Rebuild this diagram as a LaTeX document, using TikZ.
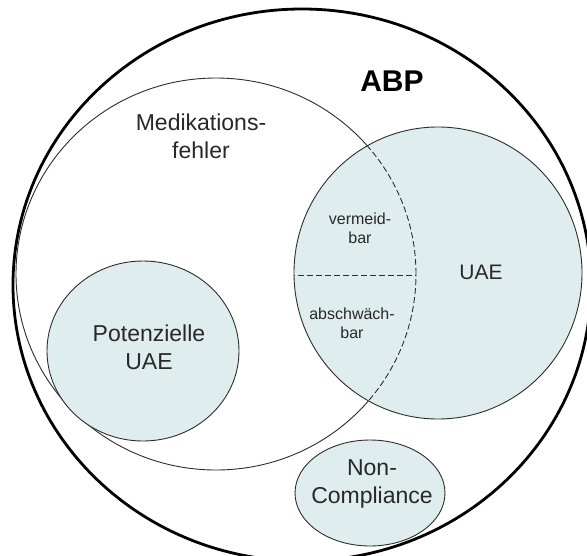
\documentclass[tikz,border=0pt]{standalone}
\usepackage{fontspec}
\setmainfont{Liberation Sans}
\definecolor{uaefill}{RGB}{224,237,238}
\definecolor{linegray}{RGB}{45,45,45}
\definecolor{textgray}{RGB}{40,40,40}
\begin{document}
\begin{tikzpicture}[x=1pt,y=-1pt,
  thinline/.style={draw=linegray, line width=0.9pt},
  setfill/.style={thinline, fill=uaefill},
  dashline/.style={draw=linegray, line width=0.9pt, dash pattern=on 6pt off 3pt},
  outerline/.style={draw=black, line width=2.8pt},
  bigtext/.style={text=textgray, align=center, inner sep=0pt, font=\fontsize{23}{28}\selectfont},
  smalltext/.style={text=textgray, align=center, inner sep=0pt, font=\fontsize{16}{19}\selectfont}]
\fill[white] (0,0) rectangle (587,555);
\useasboundingbox (0,0) rectangle (587,555);
\clip (0,0) rectangle (587,555);
% Medikationsfehler
\draw[thinline] (216,274) ellipse [x radius=200pt, y radius=196pt];
% Potenzielle UAE
\draw[setfill] (143,351) ellipse [x radius=96pt, y radius=90pt];
% UAE
\draw[setfill] (438,273) ellipse [x radius=144pt, y radius=146pt];
\begin{scope}
  \clip (438,273) ellipse [x radius=144pt, y radius=146pt];
  \draw[dashline] (216,274) ellipse [x radius=200pt, y radius=196pt];
  \clip (216,274) ellipse [x radius=200pt, y radius=196pt];
  \draw[dashline] (280,275) -- (430,275);
\end{scope}
% Non-Compliance
\draw[setfill] (370,493) ellipse [x radius=75pt, y radius=53pt];
% ABP
\draw[outerline] (302,285) ellipse [x radius=289pt, y radius=276pt];
% texts
\node[inner sep=0pt, font=\fontsize{30}{34}\selectfont\bfseries] (abp) at (392,81) {ABP};
\node[bigtext] (med) at (201,136) {Medikations-\\fehler};
\node[bigtext] (pot) at (149,347) {Potenzielle\\UAE};
\node[bigtext] (nc) at (372,484) {Non-\\Compliance};
\node[text=textgray, inner sep=0pt, font=\fontsize{21}{25}\selectfont] (uae) at (481,272) {UAE};
\node[smalltext] (verm) at (360,228) {vermeid-\\bar};
\node[smalltext] (absch) at (352,323) {abschwäch-\\bar};
\end{tikzpicture}
\end{document}
